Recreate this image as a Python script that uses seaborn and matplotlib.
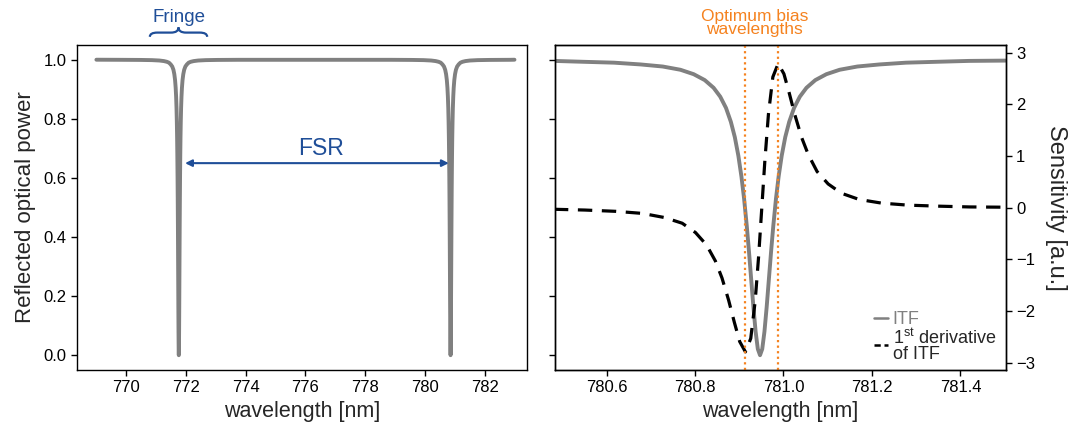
import numpy as np
import pandas as pd
import matplotlib
matplotlib.use("Agg")
import matplotlib.pyplot as plt
from matplotlib.path import Path
from matplotlib.patches import PathPatch
from matplotlib.lines import Line2D
import matplotlib.transforms as mtransforms
import seaborn as sns

# ---------------- data ----------------
# Left panel: the two fringes of the scan. One dip profile (offset from the
# dip centre, read from the picture) placed at each fringe centre.
dip_centers = [771.76, 780.86]
dip_offsets = [-2.0, -1.3, -0.9, -0.65, -0.5, -0.4, -0.33, -0.27, -0.22, -0.18,
               -0.15, -0.125, -0.105, -0.09, -0.077, -0.066, -0.057, -0.049,
               -0.042, -0.036, -0.030, -0.025, -0.020, -0.015, -0.010, -0.005,
               0.0,
               0.005, 0.010, 0.015, 0.020, 0.025, 0.030, 0.036, 0.042, 0.049,
               0.057, 0.066, 0.077, 0.09, 0.105, 0.125, 0.15, 0.18, 0.22, 0.27,
               0.33, 0.4, 0.5, 0.65, 0.9, 1.3, 2.0]
dip_profile = [0.9997, 0.9993, 0.9986, 0.9973, 0.9954, 0.993, 0.990, 0.984, 0.977, 0.966,
               0.951, 0.931, 0.905, 0.875, 0.837, 0.790, 0.738, 0.675,
               0.604, 0.529, 0.438, 0.351, 0.257, 0.163, 0.080, 0.021,
               0.0,
               0.021, 0.080, 0.163, 0.257, 0.351, 0.438, 0.529, 0.604, 0.675,
               0.738, 0.790, 0.837, 0.875, 0.905, 0.931, 0.951, 0.966, 0.977, 0.984,
               0.990, 0.993, 0.9954, 0.9973, 0.9986, 0.9993, 0.9997]
scan_ends = [769.0, 783.0]
scan_end_values = [1.0, 1.0]

# Right panel: zoom on one fringe
wl_zoom = [780.480, 780.547, 780.617, 780.677, 780.727, 780.767, 780.797, 780.822,
           780.842, 780.857, 780.870, 780.881, 780.890, 780.898, 780.905, 780.911,
           780.917, 780.922, 780.927, 780.932, 780.937, 780.942, 780.947,
           780.952, 780.957, 780.962, 780.967, 780.972, 780.977, 780.983, 780.989,
           780.996, 781.004, 781.013, 781.024, 781.037, 781.052, 781.072, 781.097,
           781.127, 781.167, 781.217, 781.277, 781.347, 781.420, 781.502]
itf_zoom = [0.996, 0.993, 0.990, 0.984, 0.977, 0.966, 0.951, 0.931,
            0.905, 0.875, 0.837, 0.790, 0.738, 0.675, 0.604, 0.529,
            0.438, 0.351, 0.257, 0.163, 0.080, 0.021, 0.0,
            0.021, 0.080, 0.163, 0.257, 0.351, 0.438, 0.529, 0.604,
            0.675, 0.738, 0.790, 0.837, 0.875, 0.905, 0.931, 0.951,
            0.966, 0.977, 0.984, 0.990, 0.993, 0.996, 0.997]

wl_deriv = [780.481, 780.551, 780.621, 780.681, 780.731, 780.771, 780.801, 780.826,
            780.846, 780.861, 780.876, 780.889, 780.901, 780.914, 780.926, 780.936,
            780.944, 780.951, 780.958, 780.966, 780.976, 780.988, 781.001, 781.013,
            781.026, 781.041, 781.056, 781.076, 781.101, 781.131, 781.171, 781.221,
            781.281, 781.351, 781.421, 781.501]
deriv = [-0.03, -0.045, -0.07, -0.11, -0.19, -0.30, -0.48, -0.72,
         -1.03, -1.36, -1.79, -2.22, -2.59, -2.79, -2.53, -1.81,
         -0.92, 0.0, 0.92, 1.81, 2.53, 2.79, 2.59, 2.22,
         1.79, 1.36, 1.03, 0.70, 0.46, 0.28, 0.16, 0.09,
         0.05, 0.03, 0.015, 0.01]

bias_wl = [780.914, 780.988]
bias_label_x = 780.935
fringe_span = [770.79, 772.71]
fsr_span = [771.97, 780.80]
fsr_y = 0.65
fsr_label_x = 776.52

left_xticks = [770, 772, 774, 776, 778, 780, 782]
right_xticks = [780.6, 780.8, 781.0, 781.2, 781.4]
left_yticks = [0.0, 0.2, 0.4, 0.6, 0.8, 1.0]
right_yticks = [-3, -2, -1, 0, 1, 2, 3]

# ---------------- style ----------------
sns.set_theme(style="ticks")
plt.rcParams["font.family"] = ["Liberation Sans", "DejaVu Sans"]
plt.rcParams["mathtext.fontset"] = "custom"
plt.rcParams["mathtext.rm"] = "Liberation Sans"
plt.rcParams["axes.edgecolor"] = "black"
plt.rcParams["axes.linewidth"] = 1.0
plt.rcParams["xtick.color"] = "black"
plt.rcParams["ytick.color"] = "black"

GRAY = "#808080"
BLUE = "#1f4e98"
ORANGE = "#f5821f"
TICK_FS = 12

fig = plt.figure(figsize=(10.69, 4.26), dpi=100)
ax1 = fig.add_axes([0.072, 0.1315, 0.421, 0.763])
ax2 = fig.add_axes([0.519, 0.1315, 0.4216, 0.763], sharey=ax1)

# build the left-panel table from the dip profile
full_wl = [scan_ends[0]]
full_itf = [scan_end_values[0]]
for c in dip_centers:
    full_wl += [c + o for o in dip_offsets]
    full_itf += list(dip_profile)
full_wl.append(scan_ends[1])
full_itf.append(scan_end_values[1])
df_full = pd.DataFrame({"wl": full_wl, "itf": full_itf})
df_zoom = pd.DataFrame({"wl": wl_zoom, "itf": itf_zoom})
df_der = pd.DataFrame({"wl": wl_deriv, "d": deriv})

sns.lineplot(data=df_full, x="wl", y="itf", ax=ax1, color=GRAY, lw=2.8,
             sort=False, estimator=None)
ax1.set_xlim(768.35, 783.42)
ax1.set_ylim(-0.05, 1.05)
ax1.set_xticks(left_xticks)
ax1.set_yticks(left_yticks)
ax1.set_xlabel("wavelength [nm]", fontsize=15.5)
ax1.set_ylabel("Reflected optical power", fontsize=16, labelpad=5)
ax1.tick_params(labelsize=TICK_FS, length=4, width=1)

# FSR arrow
ax1.annotate("", xy=(fsr_span[0], fsr_y), xytext=(fsr_span[1], fsr_y),
             arrowprops=dict(arrowstyle="<|-|>", color=BLUE, lw=1.5,
                             mutation_scale=10, shrinkA=0, shrinkB=0))
ax1.text(fsr_label_x, fsr_y + 0.01, "FSR", color=BLUE, fontsize=16.5,
         ha="center", va="bottom")

# Fringe brace (above axes)
trans = mtransforms.blended_transform_factory(ax1.transData, ax1.transAxes)
x0, x1 = fringe_span
xm = 0.5 * (x0 + x1)
yb, ym, yt = 1.025, 1.038, 1.054
d = 0.25
verts = [(x0, yb), (x0, ym), (x0 + d, ym), (xm - d, ym), (xm, ym), (xm, yt),
         (xm, ym), (xm + d, ym), (x1 - d, ym), (x1, ym), (x1, yb)]
codes = [Path.MOVETO, Path.CURVE3, Path.CURVE3, Path.LINETO, Path.CURVE3, Path.CURVE3,
         Path.CURVE3, Path.CURVE3, Path.LINETO, Path.CURVE3, Path.CURVE3]
ax1.add_patch(PathPatch(Path(verts, codes), fill=False, edgecolor=BLUE, lw=1.6,
                        transform=trans, clip_on=False))
ax1.text(xm, 1.085, "Fringe", color=BLUE, fontsize=13.5, ha="center", va="center",
         transform=trans)

# Right panel
sns.lineplot(data=df_zoom, x="wl", y="itf", ax=ax2, color=GRAY, lw=2.8,
             sort=False, estimator=None, legend=False)
ax2.set_xlim(780.483, 781.502)
ax2.set_xticks(right_xticks)
ax2.set_xlabel("wavelength [nm]", fontsize=15.5)
ax2.set_ylabel("")
ax2.tick_params(labelsize=TICK_FS, length=4, width=1)
ax2.tick_params(axis="y", labelleft=False)

ax3 = ax2.twinx()
sns.lineplot(data=df_der, x="wl", y="d", ax=ax3, color="black", lw=2.3,
             linestyle=(0, (4.5, 3)), sort=False, estimator=None, legend=False)
ax3.set_ylim(-3.14, 3.15)
ax3.set_yticks(right_yticks)
ax3.tick_params(labelsize=TICK_FS, length=4, width=1)
ax3.set_ylabel("Sensitivity [a.u.]", fontsize=17, rotation=270, labelpad=23)

for xb in bias_wl:
    ax3.axvline(xb, color=ORANGE, lw=1.6, linestyle=(0, (1, 1.5)))

ax3.text(bias_label_x, 1.067, "Optimum bias\nwavelengths", color=ORANGE,
         fontsize=12.5, ha="center", va="center", linespacing=0.85,
         transform=mtransforms.blended_transform_factory(ax3.transData, ax3.transAxes))

handles = [Line2D([], [], color=GRAY, lw=1.8),
           Line2D([], [], color="black", lw=1.8, linestyle=(0, (2.5, 1.5)))]
labels = ["ITF", "1$^{\\rm st}$ derivative\nof ITF"]
leg = ax3.legend(handles, labels, loc="lower right", bbox_to_anchor=(1.0, -0.005),
                 frameon=False, fontsize=13, handlelength=0.8, handletextpad=0.25,
                 labelspacing=0.0, borderaxespad=0.1)
leg.get_texts()[0].set_color(GRAY)
for t in leg.get_texts():
    t.set_linespacing(0.85)

fig.savefig("out.png", dpi=100)
